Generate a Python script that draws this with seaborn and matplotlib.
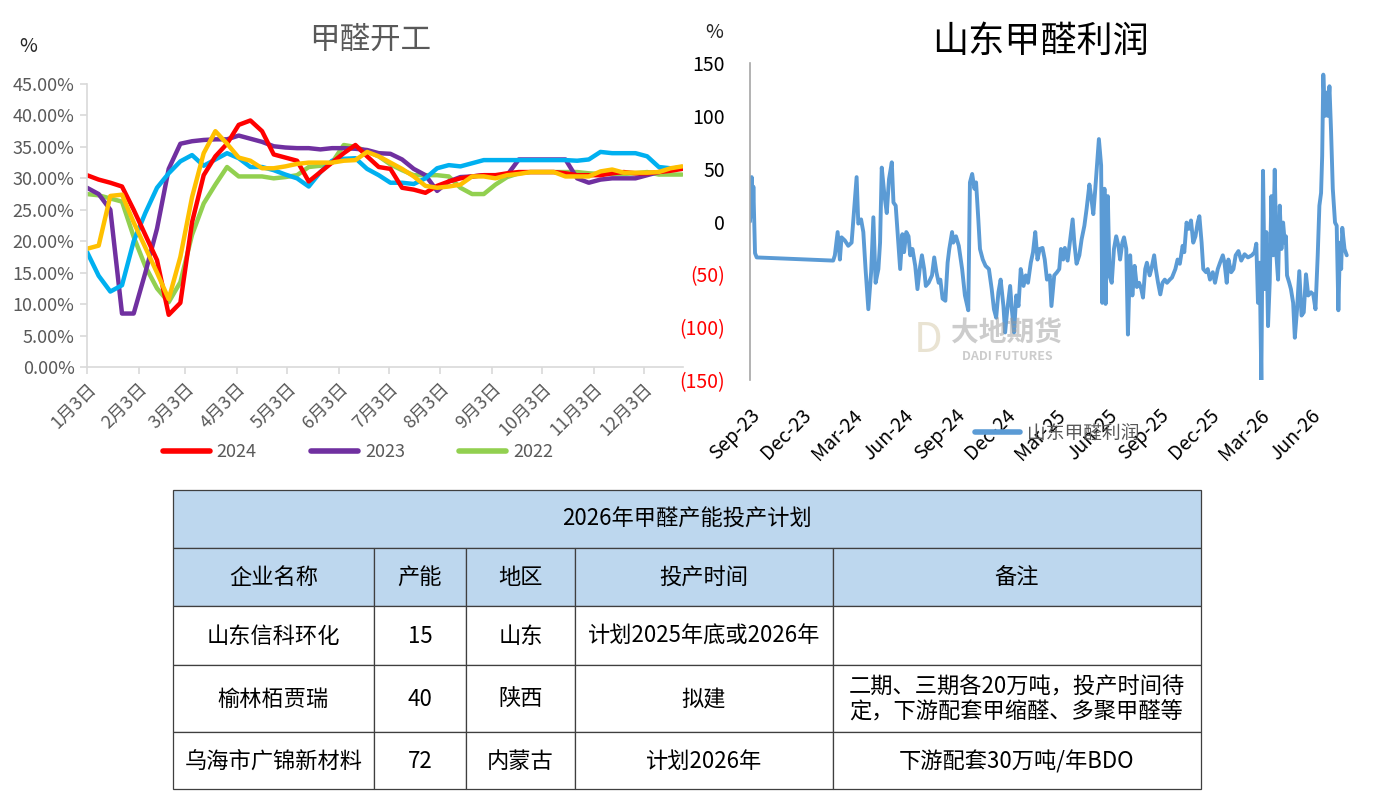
import numpy as np
import pandas as pd
import matplotlib
matplotlib.use("Agg")
import matplotlib.pyplot as plt
import matplotlib.dates as mdates
from matplotlib.lines import Line2D
from matplotlib.patches import Rectangle
import seaborn as sns

# ---------------- 甲醛开工 (weekly operating rate, %) ----------------
week_start = "2022-01-03"
rate_2024 = [30.5, 29.8, 29.3, 28.7, 25.0, 21.0, 17.0, 8.3, 10.2, 23.0,
             30.5, 33.5, 35.5, 38.5, 39.2, 37.5, 33.8, 33.3, 32.8, 29.5,
             31.0, 32.5, 34.0, 35.3, 33.5, 31.8, 31.5, 28.5, 28.2, 27.7,
             28.8, 29.5, 30.0, 30.3, 30.5, 30.5, 30.8, 31.0, 31.0, 31.0,
             31.0, 30.8, 30.5, 30.5, 30.5, 30.8, 31.0, 30.8, 30.8, 31.0,
             31.2, 31.5]
rate_2023 = [28.5, 27.5, 25.0, 8.5, 8.5, 15.0, 22.0, 31.5, 35.5, 35.9,
             36.1, 36.2, 36.2, 36.8, 36.3, 35.8, 35.1, 34.9, 34.8, 34.8,
             34.6, 34.8, 34.8, 34.7, 34.5, 34.0, 33.9, 33.0, 31.5, 30.5,
             28.0, 29.5, 30.2, 30.3, 30.5, 30.5, 30.5, 33.0, 33.0, 33.0,
             33.0, 33.0, 30.0, 29.3, 29.8, 30.0, 30.0, 30.0, 30.5, 31.0,
             31.5, 31.8]
rate_2022 = [27.5, 27.3, 26.8, 26.3, 20.7, 16.0, 12.5, 10.3, 13.5, 21.0,
             26.0, 29.0, 31.8, 30.3, 30.3, 30.3, 30.0, 30.2, 30.5, 31.8,
             32.0, 32.5, 35.3, 35.0, 34.3, 33.5, 32.2, 31.3, 30.5, 30.5,
             30.5, 30.3, 28.5, 27.5, 27.5, 29.0, 30.2, 30.8, 31.0, 31.0,
             31.0, 31.0, 31.0, 30.8, 30.7, 30.7, 30.7, 30.8, 31.0, 30.6,
             30.6, 30.6]
rate_2021 = [18.3, 14.5, 12.0, 13.0, 20.0, 24.5, 28.5, 30.8, 32.7, 33.7,
             32.0, 33.0, 34.0, 33.2, 31.8, 31.8, 31.3, 30.6, 30.0, 28.7,
             31.0, 32.8, 33.1, 33.2, 31.5, 30.5, 29.3, 29.3, 29.1, 30.0,
             31.6, 32.1, 31.9, 32.4, 32.9, 32.9, 32.9, 32.9, 32.9, 32.9,
             32.9, 32.9, 32.8, 33.0, 34.2, 34.0, 34.0, 34.0, 33.5, 31.8,
             31.6, 31.5]
rate_2025 = [18.8, 19.3, 27.2, 27.4, 23.0, 19.0, 15.0, 10.8, 17.5, 27.0,
             34.0, 37.5, 35.5, 33.3, 32.8, 31.6, 31.6, 31.9, 32.3, 32.5,
             32.5, 32.5, 32.8, 32.9, 34.2, 33.5, 32.5, 31.5, 30.3, 28.8,
             28.5, 28.7, 29.0, 30.3, 30.3, 30.0, 30.5, 30.7, 31.0, 31.0,
             31.0, 30.3, 30.3, 30.3, 31.1, 31.4, 30.9, 30.9, 30.9, 31.0,
             31.6, 31.9]
rate_years = ["2022", "2023", "2021", "2024", "2025"]   # draw order
rate_colors = {"2024": "#FF0000", "2023": "#7030A0", "2022": "#92D050",
               "2021": "#00B0F0", "2025": "#FFC000"}
legend_years = ["2024", "2023", "2022"]
month_tick_dates = ["2022-01-03", "2022-02-03", "2022-03-03", "2022-04-03",
                    "2022-05-03", "2022-06-03", "2022-07-03", "2022-08-03",
                    "2022-09-03", "2022-10-03", "2022-11-03", "2022-12-03"]
month_tick_labels = ["1月3日", "2月3日", "3月3日", "4月3日", "5月3日", "6月3日",
                     "7月3日", "8月3日", "9月3日", "10月3日", "11月3日", "12月3日"]

# ---------------- 山东甲醛利润 ----------------
profit_start = "2023-09-01"
profit_day = [0, 3, 5, 6, 9, 12, 149, 152, 157, 161, 164, 170, 176, 182, 187, 191,
              194, 199, 203, 207, 212, 217, 221, 225, 230, 233, 236, 241, 245, 249,
              254, 257, 261, 264, 269, 273, 276, 280, 284, 287, 291, 296, 300, 304,
              308, 312, 315, 320, 326, 330, 334, 338, 341, 345, 350, 354, 357, 362,
              364, 369, 374, 380, 385, 391, 394, 398, 402, 405, 409, 412, 417, 422,
              428, 433, 437, 441, 445, 449, 454, 457, 461, 466, 469, 473, 477, 481,
              485, 490, 494, 498, 503, 507, 511, 515, 519, 524, 528, 532, 537, 540,
              545, 550, 554, 557, 561, 564, 569, 573, 578, 581, 585, 590, 594, 599,
              603, 608, 611, 615, 618, 622, 625, 629, 631, 635, 637, 641, 644, 648,
              652, 656, 660, 663, 667, 670, 674, 677, 681, 685, 689, 693, 697, 701,
              704, 708, 711, 716, 719, 724, 727, 731, 735, 739, 743, 747, 752, 756,
              762, 766, 770, 775, 778, 782, 786, 790, 794, 798, 802, 805, 809, 812,
              817, 820, 824, 829, 833, 838, 842, 847, 850, 854, 857, 862, 866, 870,
              875, 880, 886, 892, 899, 904, 907, 910, 913, 916, 919, 922, 925, 928,
              931, 934, 937, 940, 943, 946, 949, 952, 955, 958, 960, 962, 966, 969,
              973, 976, 980, 984, 988, 992, 996, 1000, 1005, 1009, 1013, 1017, 1020,
              1023, 1025, 1027, 1030, 1033, 1035, 1038, 1041, 1044, 1048, 1051, 1054,
              1057, 1059, 1061, 1065, 1069]
profit_val = [0, 42, 5, 33, -30, -34, -37, -32, -10, -36, -15, -18, -23, -20, 15, 42,
              -2, 2, -10, -45, -83, -48, 4, -58, -45, -20, 51, 24, 8, 40,
              56, 18, 15, -7, -45, -12, -29, -10, -14, -32, -26, -42, -64, -45,
              -32, -45, -61, -58, -51, -34, -48, -58, -55, -73, -75, -39, -26, -10,
              -20, -14, -23, -45, -70, -84, 37, 45, 31, 37, 2, -26, -36, -42,
              -45, -64, -83, -91, -67, -55, -80, -105, -83, -61, -83, -105, -70, -80,
              -45, -61, -51, -58, -39, -29, -10, -36, -26, -25, -36, -55, -51, -80,
              -51, -48, -45, -26, -36, -25, -37, -20, 2, -20, -40, -32, -17, -4,
              12, 35, 24, 7, 27, 56, 78, 53, -77, 31, -78, 24, -51, -58,
              -26, -14, -23, -36, -20, -15, -26, -107, -32, -70, -42, -62, -58, -64,
              -72, -45, -39, -51, -45, -32, -45, -58, -69, -58, -55, -58, -55, -53,
              -45, -36, -40, -23, -29, -1, -7, 1, -20, -14, -1, 5, -20, -45,
              -48, -45, -55, -48, -58, -45, -39, -32, -39, -58, -36, -48, -45, -32,
              -28, -37, -31, -34, -32, -29, -21, -77, -39, -151, 48, -64, -10, -99,
              -58, 24, -32, 49, -32, -55, 15, -26, -1, -20, -14, -51, -58, -64,
              -77, -110, -83, -47, -89, -86, -50, -70, -67, -69, -83, -32, 15,
              27, 62, 139, 100, 122, 100, 128, 84, 31, -1, -4, -84,
              -20, -45, -6, -26, -32]
profit_tick_dates = ["2023-09-01", "2023-12-01", "2024-03-01", "2024-06-01",
                     "2024-09-01", "2024-12-01", "2025-03-01", "2025-06-01",
                     "2025-09-01", "2025-12-01", "2026-03-01", "2026-06-01"]
profit_yticks = [-150, -100, -50, 0, 50, 100, 150]

# ---------------- 2026年甲醛产能投产计划 ----------------
table_title = "2026年甲醛产能投产计划"
table_header = ["企业名称", "产能", "地区", "投产时间", "备注"]
table_rows = [
    ["山东信科环化", "15", "山东", "计划2025年底或2026年", ""],
    ["榆林栢贾瑞", "40", "陕西", "拟建",
     "二期、三期各20万吨，投产时间待\n定，下游配套甲缩醛、多聚甲醛等"],
    ["乌海市广锦新材料", "72", "内蒙古", "计划2026年", "下游配套30万吨/年BDO"],
]


def main():
    sns.set_theme(style="white")
    plt.rcParams["font.family"] = ["Noto Sans CJK SC", "DejaVu Sans"]
    plt.rcParams["axes.unicode_minus"] = False
    plt.rcParams["lines.solid_joinstyle"] = "round"
    plt.rcParams["lines.solid_capstyle"] = "round"

    W, H = 1396, 792
    fig = plt.figure(figsize=(W / 100, H / 100), dpi=100)
    fig.patch.set_facecolor("white")

    # ---------- left: 甲醛开工 ----------
    ax1 = fig.add_axes([87 / W, 1 - 367 / H, 596 / W, 283 / H])
    weeks = pd.date_range(week_start, periods=len(rate_2024), freq="7D")
    series = {"2024": rate_2024, "2023": rate_2023, "2022": rate_2022,
              "2021": rate_2021, "2025": rate_2025}
    df_rate = pd.concat([pd.DataFrame({"date": weeks, "rate": series[y], "year": y})
                         for y in rate_years], ignore_index=True)
    sns.lineplot(data=df_rate, x="date", y="rate", hue="year", hue_order=rate_years,
                 palette=rate_colors, linewidth=3.2, estimator=None, legend=False, ax=ax1)

    ax1.set_ylim(0, 45)
    ax1.set_yticks(np.arange(0, 46, 5))
    ax1.set_yticklabels([f"{v:.2f}%" for v in np.arange(0, 46, 5)])
    ax1.set_xlim(mdates.date2num(weeks[0]), mdates.date2num(weeks[-1]) + 0.5)
    ax1.set_xticks(mdates.date2num(pd.to_datetime(month_tick_dates)))
    ax1.set_xticklabels(month_tick_labels, rotation=45, ha="right", rotation_mode="anchor")
    ax1.set_xlabel("")
    ax1.set_ylabel("")
    for side in ["top", "right"]:
        ax1.spines[side].set_visible(False)
    for side in ["left", "bottom"]:
        ax1.spines[side].set_color("#D9D9D9")
        ax1.spines[side].set_linewidth(1.2)
    ax1.tick_params(axis="both", which="both", length=5, width=1.2, color="#D9D9D9",
                    labelcolor="#595959", labelsize=13, left=True, bottom=True)
    ax1.tick_params(axis="x", pad=4)
    ax1.tick_params(axis="y", pad=4)

    handles = [Line2D([0], [0], color=rate_colors[y], lw=4, solid_capstyle="round")
               for y in legend_years]
    fig.legend(handles, legend_years, loc="center", bbox_to_anchor=(358 / W, 1 - 452 / H),
               ncol=3, frameon=False, fontsize=13, handlelength=2.6, columnspacing=3.0,
               labelcolor="#595959", handletextpad=0.4)

    fig.text(370 / W, 1 - 40 / H, "甲醛开工", ha="center", va="center",
             fontsize=22, color="#595959")
    fig.text(28 / W, 1 - 47 / H, "%", ha="center", va="center", fontsize=14, color="#262626")

    # ---------- right: 山东甲醛利润 ----------
    ax2 = fig.add_axes([750 / W, 1 - 380 / H, 604 / W, 317 / H])
    t0 = pd.Timestamp(profit_start)
    df_profit = pd.DataFrame({"date": t0 + pd.to_timedelta(profit_day, unit="D"),
                              "profit": profit_val})
    sns.lineplot(data=df_profit, x="date", y="profit", color="#5B9BD5", linewidth=2.8,
                 estimator=None, ax=ax2)
    ax2.set_ylim(-150, 150)
    ax2.set_yticks(profit_yticks)
    ax2.set_yticklabels([f"({abs(v)})" if v < 0 else f"{v}" for v in profit_yticks])
    for lab, v in zip(ax2.get_yticklabels(), profit_yticks):
        lab.set_color("#FF0000" if v < 0 else "#000000")
    ax2.set_xlim(mdates.date2num(t0), mdates.date2num(t0 + pd.Timedelta(days=1082)))
    ax2.set_xticks(mdates.date2num(pd.to_datetime(profit_tick_dates)))
    ax2.xaxis.set_major_formatter(mdates.DateFormatter("%b-%y"))
    plt.setp(ax2.get_xticklabels(), rotation=45, ha="right", rotation_mode="anchor")
    ax2.set_xlabel("")
    ax2.set_ylabel("")
    for side in ["top", "right", "bottom"]:
        ax2.spines[side].set_visible(False)
    ax2.spines["left"].set_color("#A6A6A6")
    ax2.spines["left"].set_linewidth(1.2)
    ax2.tick_params(axis="both", length=0, labelsize=14)
    ax2.tick_params(axis="y", pad=18)
    ax2.tick_params(axis="x", pad=18, labelcolor="#000000")

    fig.legend([Line2D([0], [0], color="#5B9BD5", lw=4)], ["山东甲醛利润"], loc="center",
               bbox_to_anchor=(1057 / W, 1 - 433 / H), frameon=False, fontsize=13.5,
               labelcolor="#595959", handlelength=2.4, handletextpad=0.4)

    fig.text(1041 / W, 1 - 42 / H, "山东甲醛利润", ha="center", va="center",
             fontsize=26, color="#000000")
    fig.text(714 / W, 1 - 33 / H, "%", ha="center", va="center", fontsize=14, color="#262626")

    # watermark
    fig.text(1007 / W, 1 - 334 / H, "大地期货", ha="center", va="center", fontsize=20,
             fontweight="bold", color="#9A9A9A", alpha=0.5)
    fig.text(1007 / W, 1 - 357 / H, "DADI FUTURES", ha="center", va="center", fontsize=9,
             fontweight="bold", color="#9A9A9A", alpha=0.5)
    fig.text(928 / W, 1 - 341 / H, "D", ha="center", va="center", fontsize=30,
             color="#C9B98F", alpha=0.4)

    # ---------- table ----------
    axt = fig.add_axes([0, 0, 1, 1])
    axt.set_xlim(0, W)
    axt.set_ylim(H, 0)
    axt.axis("off")
    axt.patch.set_alpha(0)

    col_edges = [173, 374, 466, 575, 833, 1201]
    row_edges = [490, 548, 606, 665, 732, 789]
    fill_head = "#BDD7EE"
    line_col = "#3F3F3F"

    # title row
    axt.add_patch(Rectangle((col_edges[0], row_edges[0]), col_edges[-1] - col_edges[0],
                            row_edges[1] - row_edges[0], facecolor=fill_head,
                            edgecolor=line_col, lw=0.9))
    axt.text((col_edges[0] + col_edges[-1]) / 2, (row_edges[0] + row_edges[1]) / 2,
             table_title, ha="center", va="center", fontsize=16, color="#000000")

    all_rows = [table_header] + table_rows
    for r, row in enumerate(all_rows):
        y0, y1 = row_edges[r + 1], row_edges[r + 2]
        for c, txt in enumerate(row):
            x0, x1 = col_edges[c], col_edges[c + 1]
            axt.add_patch(Rectangle((x0, y0), x1 - x0, y1 - y0,
                                    facecolor=fill_head if r == 0 else "white",
                                    edgecolor=line_col, lw=0.9))
            if txt:
                axt.text((x0 + x1) / 2, (y0 + y1) / 2 + 1, txt, ha="center", va="center",
                         fontsize=16, color="#000000", linespacing=1.15,
                         multialignment="left")

    fig.savefig("out.png", dpi=100, facecolor="white")
    plt.close(fig)


if __name__ == "__main__":
    main()
